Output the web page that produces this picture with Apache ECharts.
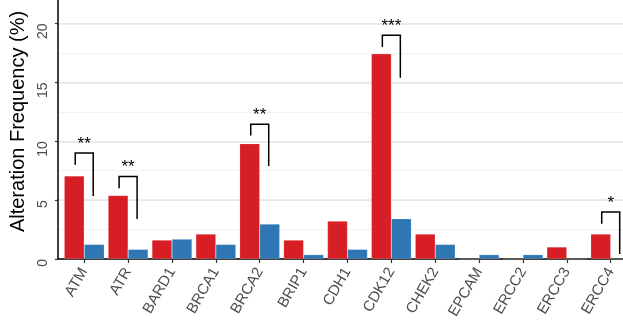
<!DOCTYPE html>
<html>
<head>
<meta charset="utf-8">
<script src="https://cdn.jsdelivr.net/npm/echarts@6/dist/echarts.min.js"></script>
<style>
  html, body { margin: 0; padding: 0; background: #ffffff; }
  #chart { width: 623px; height: 327px; }
</style>
</head>
<body>
<div id="chart"></div>
<script>
// Genes on the x axis
const genes = ['ATM', 'ATR', 'BARD1', 'BRCA1', 'BRCA2', 'BRIP1', 'CDH1', 'CDK12', 'CHEK2', 'EPCAM', 'ERCC2', 'ERCC3', 'ERCC4'];
// Alteration frequency (%) for the two groups
const redGroup = [7.06, 5.40, 1.61, 2.12, 9.80, 1.61, 3.22, 17.43, 2.12, 0, 0, 1.02, 2.12];
const blueGroup = [1.24, 0.82, 1.69, 1.24, 2.97, 0.37, 0.82, 3.42, 1.24, 0.37, 0.37, 0, 0];
// Significance brackets: gene, bracket top, left leg end, right leg end, label
const bracketGenes = ['ATM', 'ATR', 'BRCA2', 'CDK12', 'ERCC4'];
const bracketTop = [9.0, 7.0, 11.45, 19.0, 4.0];
const bracketLeftEnd = [8.0, 6.0, 10.5, 18.0, 3.0];
const bracketRightEnd = [5.36, 3.39, 7.9, 15.4, 0.42];
const bracketLabels = ['**', '**', '**', '***', '*'];
// Y axis tick labels
const yTicks = [0, 5, 10, 15, 20];

const FONT = "'Liberation Sans', Arial, sans-serif";
const positions = genes.map((g, i) => i);

const chart = echarts.init(document.getElementById('chart'), null, { renderer: 'canvas' });

const bracketData = bracketGenes.map((g, i) => [genes.indexOf(g), bracketTop[i], bracketLeftEnd[i], bracketRightEnd[i]]);

const option = {
  animation: false,
  backgroundColor: '#ffffff',
  grid: { left: 49, right: 0, top: 0, bottom: 68, containLabel: false },
  xAxis: {
    type: 'value',
    min: -0.6,
    max: 12.28,
    splitLine: { show: false },
    axisLine: { show: true, onZero: false, lineStyle: { color: '#000', width: 1.5 } },
    axisTick: { show: true, customValues: positions, length: 4, lineStyle: { color: '#333', width: 1.2 } },
    axisLabel: {
      customValues: positions,
      formatter: v => genes[Math.round(v)] || '',
      rotate: 60,
      align: 'right',
      verticalAlign: 'middle',
      margin: 10,
      fontSize: 15,
      color: '#4d4d4d',
      fontFamily: FONT
    }
  },
  yAxis: [
    {
      // minor grid lines
      type: 'value', min: 0, max: 22, interval: 2.5,
      axisLine: { show: false }, axisTick: { show: false }, axisLabel: { show: false },
      splitLine: { show: true, showMaxLine: false, lineStyle: { color: '#f1f1f1', width: 1 } }
    },
    {
      type: 'value', min: 0, max: 22, interval: 5,
      position: 'left',
      name: 'Alteration Frequency (%)',
      nameLocation: 'middle',
      nameRotate: 90,
      nameGap: 26,
      nameTextStyle: { color: '#000', fontSize: 20, fontFamily: FONT, padding: [0, 0, 0, 16] },
      axisLine: { show: true, onZero: false, lineStyle: { color: '#000', width: 1.5 } },
      axisTick: { show: true, length: 3, lineStyle: { color: '#333', width: 1.2 } },
      axisLabel: {
        showMaxLabel: false,
        formatter: v => (yTicks.indexOf(v) >= 0 ? String(v) : ''),
        rotate: 90,
        align: 'right',
        verticalAlign: 'bottom',
        margin: 8,
        fontSize: 14,
        color: '#4d4d4d',
        fontFamily: FONT
      },
      splitLine: { show: true, showMaxLine: false, lineStyle: { color: '#e6e6e6', width: 1.5 } }
    }
  ],
  series: [
    {
      type: 'bar',
      yAxisIndex: 0,
      data: redGroup.map((v, i) => [i, v]),
      barWidth: 20,
      barGap: '0%',
      itemStyle: { color: '#d71e25', borderColor: 'rgba(255,255,255,0.35)', borderWidth: 0.5 }
    },
    {
      type: 'bar',
      yAxisIndex: 0,
      data: blueGroup.map((v, i) => [i, v]),
      barWidth: 20,
      barGap: '0%',
      itemStyle: { color: '#2e77b4', borderColor: 'rgba(255,255,255,0.35)', borderWidth: 0.5 }
    },
    {
      type: 'custom',
      yAxisIndex: 0,
      data: bracketData,
      encode: { x: 0, y: [1, 2, 3] },
      z: 5,
      renderItem: function (params, api) {
        const xi = api.value(0);
        const top = api.value(1);
        const leftEnd = api.value(2);
        const rightEnd = api.value(3);
        const a = api.coord([xi - 0.205, leftEnd]);
        const b = api.coord([xi - 0.205, top]);
        const c = api.coord([xi + 0.205, top]);
        const d = api.coord([xi + 0.205, rightEnd]);
        const mid = api.coord([xi, top]);
        return {
          type: 'group',
          children: [
            {
              type: 'polyline',
              shape: { points: [a, b, c, d] },
              style: { stroke: '#000', lineWidth: 1.5, fill: null }
            },
            {
              type: 'text',
              style: {
                text: bracketLabels[params.dataIndex],
                x: mid[0],
                y: mid[1] - 9,
                align: 'center',
                verticalAlign: 'middle',
                fontSize: 17,
                fontFamily: FONT,
                fill: '#000'
              }
            }
          ]
        };
      }
    }
  ]
};

chart.setOption(option);
</script>
</body>
</html>
